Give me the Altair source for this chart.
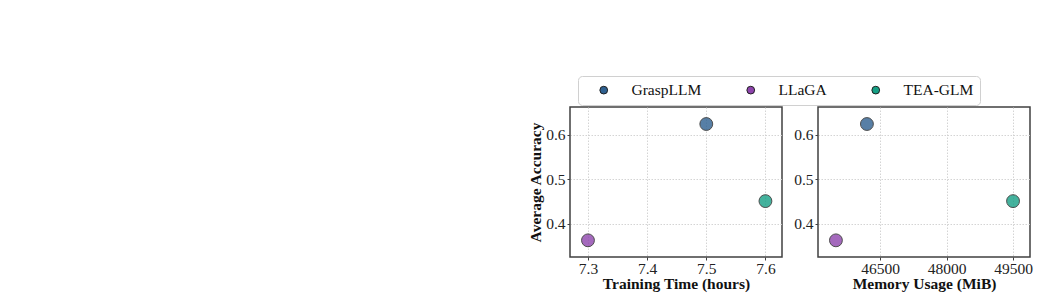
import altair as alt
import pandas as pd

models = ["GraspLLM", "LLaGA", "TEA-GLM"]
train_hours = [7.5, 7.3, 7.6]
memory_mib = [46200, 45500, 49500]
accuracy = [0.624, 0.363, 0.451]
colors = ["#2e6090", "#8e44ad", "#16a085"]

df = pd.DataFrame({"model": models, "hours": train_hours,
                   "memory": memory_mib, "acc": accuracy})

FONT = "Liberation Serif"
ydom = [0.3256, 0.6622]

color = alt.Color(
    "model:N",
    scale=alt.Scale(domain=models, range=colors),
    legend=alt.Legend(
        title=None, orient="none", direction="horizontal",
        legendX=8, legendY=-31,
        symbolType="circle", symbolSize=60, symbolOpacity=1,
        symbolStrokeColor="#222", symbolStrokeWidth=1,
        labelFont=FONT, labelFontSize=15.5, labelColor="#111",
        labelOffset=20, columnPadding=29,
        fillColor="white", strokeColor="#d0d0d0", cornerRadius=4,
        padding=6, symbolOffset=12,
    ),
)

yenc = alt.Y("acc:Q", scale=alt.Scale(domain=ydom, nice=False, zero=False),
             axis=alt.Axis(values=[0.4, 0.5, 0.6], format=".1f",
                           title="Average Accuracy"))

left = alt.Chart(df).mark_circle(
    size=165, opacity=0.8, stroke="#222", strokeWidth=1
).encode(
    x=alt.X("hours:Q", scale=alt.Scale(domain=[7.2696, 7.628], nice=False, zero=False),
            axis=alt.Axis(values=[7.3, 7.4, 7.5, 7.6], format=".1f",
                          title="Training Time (hours)")),
    y=yenc,
    color=color,
).properties(width=212, height=150)

right = alt.Chart(df).mark_circle(
    size=165, opacity=0.8, stroke="#222", strokeWidth=1
).encode(
    x=alt.X("memory:Q", scale=alt.Scale(domain=[45095, 49883], nice=False, zero=False),
            axis=alt.Axis(values=[46500, 48000, 49500], format="d",
                          title="Memory Usage (MiB)")),
    y=alt.Y("acc:Q", scale=alt.Scale(domain=ydom, nice=False, zero=False),
            axis=alt.Axis(values=[0.4, 0.5, 0.6], format=".1f", title=None)),
    color=color,
).properties(width=212, height=150)

chart = alt.hconcat(left, right, spacing=9).properties(
    padding={"left": 527, "top": 75, "right": 0, "bottom": 0},
    background="white",
).configure_view(
    stroke="#404040", strokeWidth=1.5
).configure_axis(
    domain=False, grid=True, gridColor="#cfcfcf", gridDash=[1.5, 1.5], gridWidth=0.9,
    ticks=True, tickSize=3, tickColor="#404040",
    labelFont=FONT, labelFontSize=15.5, labelColor="#222", labelPadding=2,
    titleFont=FONT, titleFontSize=15.5, titleFontWeight="bold", titleColor="#111",
    titlePadding=2,
).configure_axisX(
    labelPadding=1, titlePadding=0
)

chart.save("out.html", embed_options={"renderer": "svg", "actions": False})
